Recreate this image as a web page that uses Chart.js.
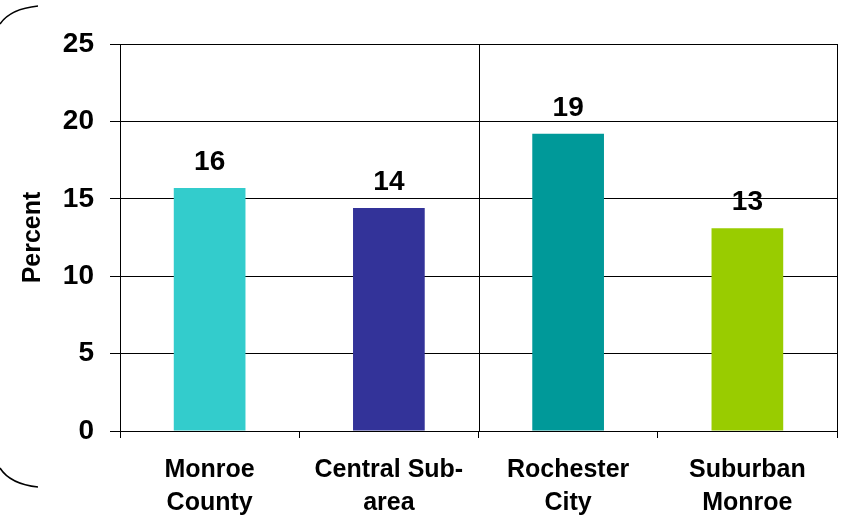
<!DOCTYPE html>
<html>
<head>
<meta charset="utf-8">
<script src="https://cdn.jsdelivr.net/npm/chart.js@4"></script>
<style>
  html, body { margin: 0; padding: 0; background: #fff; }
  #wrap { width: 843px; height: 519px; position: relative; }
</style>
</head>
<body>
<div id="wrap"><canvas id="grafico"></canvas></div>
<script>
const categorias = [["Monroe", "County"], ["Central Sub-", "area"], ["Rochester", "City"], ["Suburban", "Monroe"]];
const valores = [15.7, 14.4, 19.2, 13.1];
const cores = ["#33CCCC", "#333399", "#009999", "#99CC00"];
const ticksY = [0, 5, 10, 15, 20, 25];

const fonte = "'Liberation Sans', Arial, sans-serif";

// rótulos em cima das barras, linha do meio, borda e o colchete da esquerda
const extras = {
  id: "extras",
  afterDatasetsDraw(chart) {
    const ctx = chart.ctx;
    const area = chart.chartArea;
    const x = chart.scales.x;
    ctx.save();

    // linha separando cidade / condado
    const meio = (x.getPixelForValue(1) + x.getPixelForValue(2)) / 2;
    ctx.strokeStyle = "#000";
    ctx.lineWidth = 1;
    ctx.beginPath();
    ctx.moveTo(Math.round(meio) + 0.5, area.top);
    ctx.lineTo(Math.round(meio) + 0.5, area.bottom);
    ctx.stroke();

    // borda direita
    ctx.beginPath();
    ctx.moveTo(Math.round(area.right) + 0.5, area.top);
    ctx.lineTo(Math.round(area.right) + 0.5, area.bottom);
    ctx.stroke();

    // valores
    ctx.fillStyle = "#000";
    ctx.font = "bold 28px " + fonte;
    ctx.textAlign = "center";
    ctx.textBaseline = "alphabetic";
    chart.getDatasetMeta(0).data.forEach((bar, i) => {
      ctx.fillText(String(Math.round(valores[i])), bar.x, bar.y - 18);
    });

    // colchete decorativo
    ctx.lineWidth = 1.5;
    ctx.beginPath();
    ctx.moveTo(0, 24);
    ctx.quadraticCurveTo(10, 9, 38, 6);
    ctx.stroke();
    ctx.beginPath();
    ctx.moveTo(0, 468);
    ctx.quadraticCurveTo(10, 484, 38, 487);
    ctx.stroke();
    ctx.restore();
  }
};

new Chart(document.getElementById("grafico"), {
  type: "bar",
  data: {
    labels: categorias,
    datasets: [{
      data: valores,
      backgroundColor: cores,
      categoryPercentage: 1,
      barPercentage: 0.4
    }]
  },
  options: {
    responsive: true,
    maintainAspectRatio: false,
    animation: false,
    events: [],
    layout: { padding: { top: 44, right: 6, left: 0, bottom: 0 } },
    plugins: {
      legend: { display: false },
      tooltip: { enabled: false }
    },
    scales: {
      x: {
        offset: true,
        grid: {
          offset: true,
          drawOnChartArea: false,
          color: "#000",
          tickLength: 7
        },
        border: { color: "#000", width: 1 },
        ticks: {
          color: "#000",
          font: { family: fonte, size: 25, weight: "bold", lineHeight: 1.32 },
          padding: 16,
          maxRotation: 0,
          autoSkip: false
        },
        afterFit(scale) { scale.height = 88; }
      },
      y: {
        min: 0,
        max: 25,
        afterBuildTicks(scale) { scale.ticks = ticksY.map(v => ({ value: v })); },
        grid: { color: "#000", tickLength: 10 },
        border: { color: "#000", width: 1 },
        ticks: {
          color: "#000",
          font: { family: fonte, size: 28, weight: "bold" },
          padding: 16
        },
        title: {
          display: true,
          text: "Percent",
          color: "#000",
          font: { family: fonte, size: 25, weight: "bold" },
          padding: { top: 18, bottom: 0 }
        },
        afterFit(scale) { scale.width = 120; }
      }
    }
  },
  plugins: [extras]
});
</script>
</body>
</html>
